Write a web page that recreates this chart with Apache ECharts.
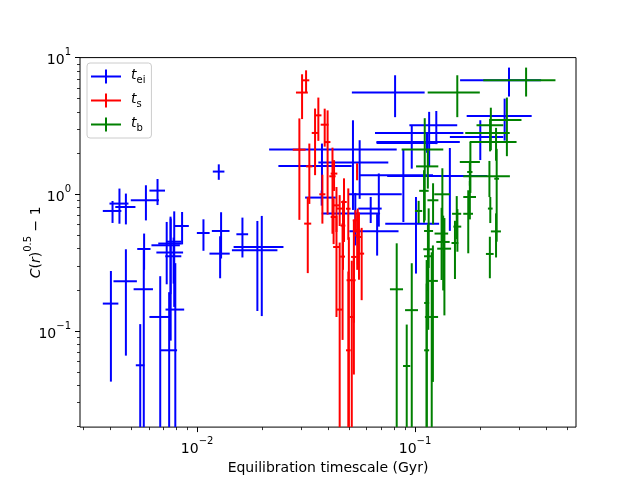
<!DOCTYPE html>
<html>
<head>
<meta charset="utf-8">
<style>
  html, body { margin: 0; padding: 0; background: #fff; }
  #chart { width: 640px; height: 480px; }
</style>
<script src="https://cdn.jsdelivr.net/npm/echarts@6.0.0/dist/echarts.min.js"></script>
</head>
<body>
<div id="chart"></div>
<script>
// each row: [x, xerr, y, yerr]  (symmetric errors, linear units)
const teiPoints = [
  [0.00409, 0.0004, 0.755, 0.138],
  [0.00440, 0.00044, 0.855, 0.246],
  [0.00471, 0.0005, 0.807, 0.205],
  [0.00582, 0.00086, 0.904, 0.26],
  [0.00658, 0.00054, 1.064, 0.23],
  [0.00402, 0.00033, 0.1586, 0.116],
  [0.00471, 0.00058, 0.231, 0.165],
  [0.00548, 0.00025, 0.0561, 0.0561],
  [0.00571, 0.0004, 0.398, 0.118],
  [0.00569, 0.00058, 0.202, 0.2],
  [0.00677, 0.00073, 0.1266, 0.125],
  [0.00725, 0.00108, 0.4235, 0.204],
  [0.00755, 0.00092, 0.436, 0.25],
  [0.00756, 0.00106, 0.375, 0.29],
  [0.0078, 0.00066, 0.352, 0.13],
  [0.00744, 0.00065, 0.0722, 0.12],
  [0.00794, 0.00078, 0.1434, 0.17],
  [0.00785, 0.0006, 0.45, 0.3],
  [0.00853, 0.00063, 0.586, 0.156],
  [0.01257, 0.00077, 1.466, 0.19],
  [0.01069, 0.00072, 0.521, 0.135],
  [0.01288, 0.0012, 0.539, 0.2],
  [0.01275, 0.00136, 0.368, 0.125],
  [0.01614, 0.001, 0.51, 0.165],
  [0.0189, 0.00446, 0.389, 0.249],
  [0.0198, 0.0051, 0.4115, 0.283],
  [0.0519, 0.0305, 2.123, 1.355],
  [0.0374, 0.0138, 1.61, 0.74],
  [0.0557, 0.0197, 1.706, 0.78],
  [0.0373, 0.006, 0.946, 0.12],
  [0.081, 0.0297, 5.546, 1.88],
  [0.1161, 0.0506, 2.81, 1.2],
  [0.1135, 0.047, 2.413, 0.4],
  [0.1252, 0.031, 3.198, 0.87],
  [0.1993, 0.0548, 2.63, 0.85],
  [0.2578, 0.0852, 3.74, 1.27],
  [0.27, 0.109, 6.82, 1.63],
  [0.0966, 0.03, 2.37, 0.83],
  [0.0884, 0.0325, 1.377, 0.75],
  [0.0682, 0.0187, 1.0, 0.42],
  [0.0532, 0.0159, 0.7225, 0.3],
  [0.0626, 0.0077, 0.786, 0.17],
  [0.067, 0.017, 0.536, 0.18],
  [0.101, 0.028, 0.609, 0.346],
  [0.1445, 0.07, 1.36, 0.82]
];

const tsPoints = [
  [0.03162, 0.0011, 6.82, 1.25],
  [0.03031, 0.0019, 5.55, 2.0],
  [0.02946, 0.002, 2.12, 1.47],
  [0.03273, 0.0011, 1.60, 0.75],
  [0.03219, 0.0012, 0.61, 0.345],
  [0.03477, 0.0012, 2.81, 1.43],
  [0.0360, 0.0012, 3.78, 1.32],
  [0.0385, 0.0016, 3.23, 1.0],
  [0.0397, 0.0012, 2.41, 1.7],
  [0.03757, 0.0012, 1.0, 0.39],
  [0.0418, 0.0014, 1.354, 0.84],
  [0.0472, 0.0014, 0.878, 0.43],
  [0.0425, 0.0015, 1.417, 0.36],
  [0.0451, 0.0014, 0.786, 0.2],
  [0.0436, 0.0015, 0.4115, 0.285],
  [0.0465, 0.0012, 0.35, 0.264],
  [0.0451, 0.0014, 0.1434, 0.3],
  [0.05125, 0.0012, 0.1266, 0.2],
  [0.04943, 0.0012, 0.0722, 0.2],
  [0.0497, 0.0012, 0.235, 0.25],
  [0.0533, 0.0015, 0.645, 0.12],
  [0.0546, 0.0015, 0.546, 0.24],
  [0.0553, 0.0015, 0.487, 0.25],
  [0.0524, 0.0015, 0.348, 0.3],
  [0.0524, 0.0010, 0.235, 0.12],
  [0.0569, 0.0015, 0.368, 0.2],
  [0.0543, 0.0012, 0.50, 0.22],
  [0.0436, 0.0013, 0.83, 0.3],
  [0.0423, 0.0013, 0.682, 0.25],
  [0.0467, 0.0012, 0.59, 0.31],
  [0.0542, 0.0004, 1.476, 0.21],
  [0.0494, 0.0012, 0.784, 0.32]
];

const tbPoints = [
  [0.3234, 0.1177, 6.82, 1.63],
  [0.1563, 0.042, 5.546, 1.88],
  [0.264, 0.044, 3.5, 1.6],
  [0.2228, 0.0313, 3.2, 1.1],
  [0.221, 0.051, 2.81, 0.75],
  [0.2354, 0.057, 2.41, 0.65],
  [0.1108, 0.024, 2.123, 1.48],
  [0.1145, 0.0134, 1.60, 0.5],
  [0.1795, 0.019, 1.723, 0.7],
  [0.2195, 0.053, 1.354, 0.4],
  [0.1785, 0.005, 1.456, 0.3],
  [0.0824, 0.0057, 0.2018, 0.236],
  [0.0966, 0.0066, 0.142, 0.171],
  [0.0916, 0.0035, 0.0554, 0.056],
  [0.1131, 0.003, 0.1603, 0.17],
  [0.1131, 0.003, 0.0722, 0.15],
  [0.1193, 0.0083, 0.1266, 0.25],
  [0.1208, 0.0065, 0.2324, 0.19],
  [0.110, 0.0055, 1.06, 0.44],
  [0.121, 0.007, 0.904, 0.3],
  [0.1039, 0.004, 0.755, 0.14],
  [0.1335, 0.011, 1.0, 0.55],
  [0.1155, 0.0055, 0.539, 0.25],
  [0.1146, 0.0055, 0.396, 0.2],
  [0.115, 0.005, 0.352, 0.25],
  [0.1324, 0.0095, 0.516, 0.28],
  [0.1347, 0.0095, 0.448, 0.25],
  [0.1364, 0.01, 0.40, 0.27],
  [0.1554, 0.0075, 0.72, 0.25],
  [0.1565, 0.0065, 0.58, 0.2],
  [0.1525, 0.0055, 0.44, 0.2],
  [0.1785, 0.012, 0.955, 0.3],
  [0.1755, 0.009, 0.72, 0.35],
  [0.2215, 0.0055, 0.786, 0.17],
  [0.2354, 0.0125, 0.535, 0.19],
  [0.2205, 0.009, 0.366, 0.123],
  [0.237, 0.006, 1.3, 0.85]
];

const xLimits = [0.0029, 0.548];
const yLimits = [0.0198, 10];
const xMajorTicks = [0.01, 0.1];
const yMajorTicks = [0.1, 1, 10];
const xMinorTicks = [0.003, 0.004, 0.005, 0.006, 0.007, 0.008, 0.009,
  0.02, 0.03, 0.04, 0.05, 0.06, 0.07, 0.08, 0.09, 0.2, 0.3, 0.4, 0.5];
const yMinorTicks = [0.02, 0.03, 0.04, 0.05, 0.06, 0.07, 0.08, 0.09,
  0.2, 0.3, 0.4, 0.5, 0.6, 0.7, 0.8, 0.9, 2, 3, 4, 5, 6, 7, 8, 9];

const seriesInfo = [
  { name: 'tei', sub: 'ei', color: '#0000ff', points: teiPoints },
  { name: 'ts', sub: 's', color: '#ff0000', points: tsPoints },
  { name: 'tb', sub: 'b', color: '#008000', points: tbPoints }
];

const lg = Math.log10;
const xl = xLimits.map(lg), yl = yLimits.map(lg);
const clamp = (v, r) => Math.min(Math.max(v, r[0]), r[1]);
const lgLo = (v, e, r) => (v - e > 0 ? clamp(lg(v - e), r) : r[0]);

// convert to log10 space: [lx, ly, lxlo, lxhi, lylo, lyhi]
function toLog(points) {
  return points.map(([x, xe, y, ye]) => [
    lg(x), lg(y),
    lgLo(x, xe, xl), clamp(lg(x + xe), xl),
    lgLo(y, ye, yl), clamp(lg(y + ye), yl)
  ]);
}

const crossIcon = 'path://M0,6H30V8H0Z M14,0H16V14H14Z';
const fontFamily = 'DejaVu Sans';
const powRich = {
  b: { fontSize: 14, fontFamily, color: '#000', lineHeight: 20, verticalAlign: 'bottom' },
  e: { fontSize: 10, fontFamily, color: '#000', lineHeight: 10, verticalAlign: 'top' }
};
const powLabel = v => '{b|10}{e|' + String(Math.round(v)).replace('-', '\u2212') + '}';

function makeAxis(limits, major, minor, isX, name) {
  const common = {
    type: 'value', min: limits[0], max: limits[1],
    position: isX ? 'bottom' : 'left',
    splitLine: { show: false },
    axisLine: { show: false, onZero: false }
  };
  return [
    Object.assign({}, common, {
      name: name,
      nameLocation: 'middle',
      nameGap: isX ? 29 : 37,
      nameMoveOverlap: isX,
      nameRotate: isX ? 0 : 90,
      nameTextStyle: isX
        ? { fontSize: 14, fontFamily, color: '#000' }
        : {
            fontSize: 14, fontFamily, color: '#000',
            rich: {
              i: { fontSize: 14, fontFamily, fontStyle: 'italic', color: '#000', lineHeight: 20, verticalAlign: 'bottom' },
              n: { fontSize: 14, fontFamily, color: '#000', lineHeight: 20, verticalAlign: 'bottom' },
              s: { fontSize: 10, fontFamily, color: '#000', lineHeight: 10, verticalAlign: 'top' }
            }
          },
      axisTick: { show: true, customValues: major.map(lg), length: 5, lineStyle: { color: '#000', width: 1 } },
      axisLabel: { show: true, customValues: major.map(lg), margin: 9, formatter: powLabel, rich: powRich }
    }),
    Object.assign({}, common, {
      axisTick: { show: true, customValues: minor.map(lg), length: 3, lineStyle: { color: '#000', width: 0.8 } },
      axisLabel: { show: false }
    })
  ];
}

const option = {
  animation: false,
  backgroundColor: '#fff',
  grid: {
    left: 80, right: 64, top: 57.6, bottom: 52.8,
    show: true, borderColor: '#000', borderWidth: 1, backgroundColor: '#fff'
  },
  xAxis: makeAxis(xl, xMajorTicks, xMinorTicks, true, 'Equilibration timescale (Gyr)'),
  yAxis: makeAxis(yl, yMajorTicks, yMinorTicks, false, '{i|C}{n|(}{i|r}{n|)}{s|0.5}{n| \u2212 1}'),
  legend: {
    left: 87, top: 63, orient: 'vertical',
    selectedMode: false,
    itemWidth: 30, itemHeight: 14, itemGap: 7,
    padding: [5, 6, 5, 4],
    backgroundColor: 'rgba(255,255,255,0.8)',
    borderColor: '#cccccc', borderWidth: 1, borderRadius: 3,
    data: seriesInfo.map(s => ({ name: s.name, icon: crossIcon })),
    formatter: name => '{t|t}{s|' + seriesInfo.find(s => s.name === name).sub + '}',
    textStyle: {
      padding: [0, 0, 0, 5],
      rich: {
        t: { fontSize: 14, fontFamily, fontStyle: 'italic', color: '#000', lineHeight: 17, verticalAlign: 'top' },
        s: { fontSize: 10, fontFamily, color: '#000', lineHeight: 10, verticalAlign: 'bottom' }
      }
    }
  },
  series: seriesInfo.map(s => ({
    name: s.name,
    type: 'custom',
    xAxisIndex: 0, yAxisIndex: 0,
    itemStyle: { color: s.color },
    encode: { x: 0, y: 1 },
    data: toLog(s.points),
    renderItem: (params, api) => {
      const c = api.coord([api.value(0), api.value(1)]);
      const h0 = api.coord([api.value(2), api.value(1)]);
      const h1 = api.coord([api.value(3), api.value(1)]);
      const v0 = api.coord([api.value(0), api.value(4)]);
      const v1 = api.coord([api.value(0), api.value(5)]);
      const style = { stroke: s.color, lineWidth: 2, fill: null };
      return {
        type: 'group',
        children: [
          { type: 'line', shape: { x1: h0[0], y1: c[1], x2: h1[0], y2: c[1] }, style },
          { type: 'line', shape: { x1: c[0], y1: v0[1], x2: c[0], y2: v1[1] }, style }
        ]
      };
    }
  }))
};

const chart = echarts.init(document.getElementById('chart'), null, { renderer: 'canvas' });
chart.setOption(option);
</script>
</body>
</html>
